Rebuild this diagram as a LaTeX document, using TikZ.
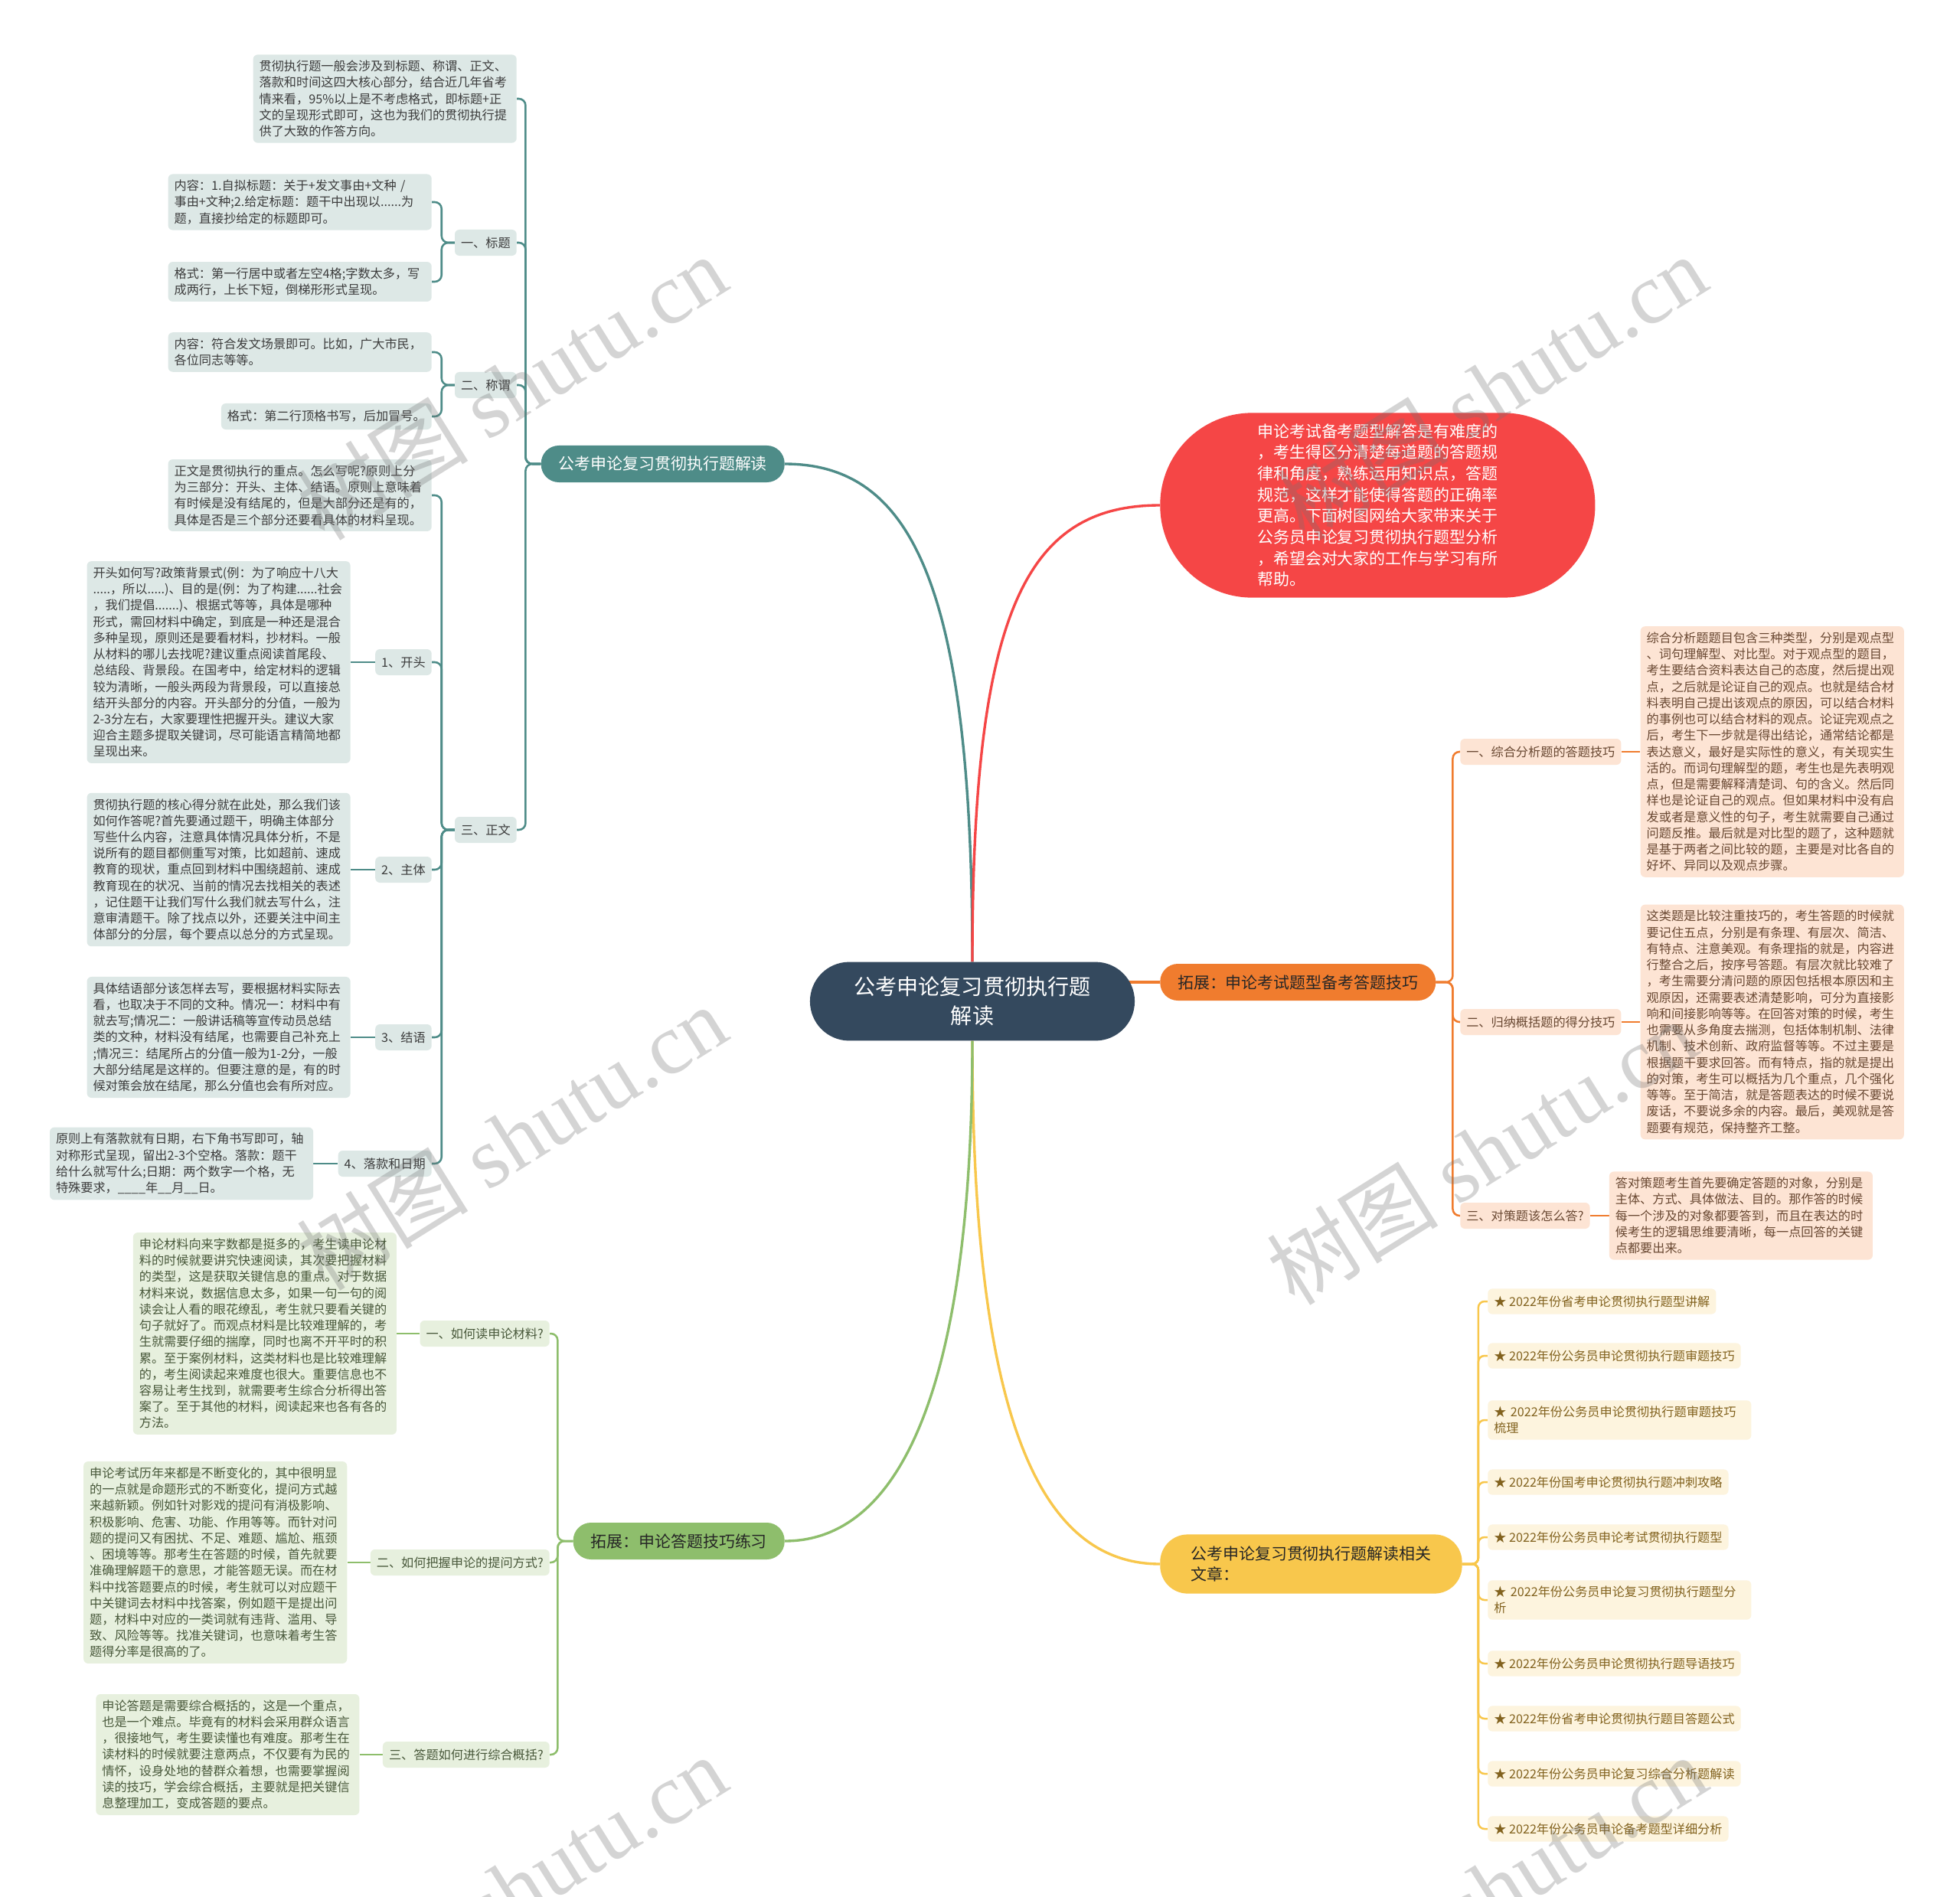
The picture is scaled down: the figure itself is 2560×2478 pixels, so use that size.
\documentclass[tikz,border=0pt]{standalone}
\usepackage{fontspec}
\setmainfont{Noto Sans CJK SC}
\newfontfamily\wmlatin{Liberation Serif}
\usepackage{tikz}
\usetikzlibrary{positioning, backgrounds}
\definecolor{rootblue}{RGB}{52, 73, 94}
\definecolor{branchteal}{RGB}{78, 140, 136}
\definecolor{paleteal}{RGB}{221, 232, 230}
\definecolor{branchred}{RGB}{245, 70, 70}
\definecolor{branchorange}{RGB}{240, 124, 46}
\definecolor{paleorange}{RGB}{253, 228, 212}
\definecolor{branchyellow}{RGB}{248, 199, 76}
\definecolor{paleyellow}{RGB}{253, 244, 222}
\definecolor{branchgreen}{RGB}{142, 190, 108}
\definecolor{palegreen}{RGB}{231, 240, 222}
\definecolor{inkgray}{RGB}{60, 60, 60}
\definecolor{inkbrown}{RGB}{105, 72, 50}
\definecolor{inkgold}{RGB}{130, 98, 30}
\definecolor{inkgreen}{RGB}{72, 88, 58}

\begin{document}
\begin{tikzpicture}[
    x=0.025cm, y=-0.025cm,
    rootnode/.style={
        rectangle,
        rounded corners=1.28cm,
        fill=rootblue,
        text=white,
        align=center,
        minimum width=10.6cm,
        minimum height=2.57cm,
        font=\fontsize{20}{26.7}\selectfont
    },
    mainbox/.style={
        rectangle,
        rounded corners=0.58cm,
        minimum height=1.2cm,
        inner xsep=0.57cm,
        inner ysep=0.2cm,
        font=\fontsize{14.9}{19.8}\selectfont
    },
    introbox/.style={
        rectangle,
        rounded corners=3cm,
        fill=branchred,
        text=white,
        align=left,
        minimum width=14.2cm,
        minimum height=6.03cm,
        font=\fontsize{14.9}{19.7}\selectfont
    },
    relatedbox/.style={
        rectangle,
        rounded corners=0.9cm,
        fill=branchyellow,
        text=black!85,
        align=left,
        inner xsep=1cm,
        minimum height=1.93cm,
        font=\fontsize{14.9}{19.8}\selectfont
    },
    leafbox/.style={
        rectangle,
        rounded corners=0.15cm,
        inner xsep=0.2cm,
        inner ysep=0.19cm,
        align=left,
        font=\fontsize{11.5}{15.1}\selectfont
    },
    labelbox/.style={leafbox, minimum height=0.85cm},
    tealtext/.style={leafbox, text width=8.2cm, fill=paleteal, text=inkgray},
    teallabel/.style={labelbox, fill=paleteal, text=inkgray},
    orangetext/.style={leafbox, text width=8.2cm, fill=paleorange, text=inkbrown},
    orangelabel/.style={labelbox, fill=paleorange, text=inkbrown},
    greentext/.style={leafbox, text width=8.2cm, fill=palegreen, text=inkgreen},
    greenlabel/.style={labelbox, fill=palegreen, text=inkgreen},
    linkitem/.style={labelbox, fill=paleyellow, text=inkgold, minimum height=0.83cm},
    tealline/.style={draw=branchteal, line width=1.8pt, rounded corners=0.22cm},
    redline/.style={draw=branchred, line width=2.4pt},
    orangeline/.style={draw=branchorange, line width=1.8pt, rounded corners=0.22cm},
    yellowline/.style={draw=branchyellow, line width=1.8pt, rounded corners=0.2cm},
    greenline/.style={draw=branchgreen, line width=1.8pt, rounded corners=0.22cm},
    trunk/.style={line width=2.4pt},
    watermark/.style={
        rotate=32,
        text=black!55,
        opacity=0.3,
        font=\fontsize{80}{80}\selectfont
    }
]

\useasboundingbox (0,0) rectangle (2560,2478);
\begin{scope}[on background layer]
    \fill[white] (0,0) rectangle (2560,2478);
\end{scope}

% ==================== ROOT AND MAIN BRANCHES ====================

\node (root) [rootnode] at (1270,1308) {公考申论复习贯彻执行题\\解读};

\node (guide) [mainbox, fill=branchteal, text=white, anchor=east] at (1025,606) {公考申论复习贯彻执行题解读};
\node (intro) [introbox, anchor=west] at (1515,660) {申论考试备考题型解答是有难度的\\，考生得区分清楚每道题的答题规\\律和角度，熟练运用知识点，答题\\规范，这样才能使得答题的正确率\\更高。下面树图网给大家带来关于\\公务员申论复习贯彻执行题型分析\\，希望会对大家的工作与学习有所\\帮助。};
\node (skills) [mainbox, fill=branchorange, text=black!85, anchor=west] at (1515,1283) {拓展：申论考试题型备考答题技巧};
\node (related) [relatedbox, anchor=west] at (1515,2043) {公考申论复习贯彻执行题解读相关\\文章：};
\node (practice) [mainbox, fill=branchgreen, text=black!85, anchor=east] at (1025,2013) {拓展：申论答题技巧练习};

% ==================== TEAL: GUIDE (TOP LEFT) ====================

\node (lead) [tealtext, anchor=east] at (675,129) {贯彻执行题一般会涉及到标题、称谓、正文、\\落款和时间这四大核心部分，结合近几年省考\\情来看，95\%以上是不考虑格式，即标题+正\\文的呈现形式即可，这也为我们的贯彻执行提\\供了大致的作答方向。};
\node (title) [teallabel, anchor=east] at (675,317) {一、标题};
\node (address) [teallabel, anchor=east] at (675,503) {二、称谓};
\node (bodytext) [teallabel, anchor=east] at (675,1084) {三、正文};

\node (titlecont) [tealtext, anchor=east] at (564,264) {内容：1.自拟标题：关于+发文事由+文种 /\\事由+文种;2.给定标题：题干中出现以......为\\题，直接抄给定的标题即可。};
\node (titlefmt) [tealtext, anchor=east] at (564,368) {格式：第一行居中或者左空4格;字数太多，写\\成两行，上长下短，倒梯形形式呈现。};
\node (addrcont) [tealtext, anchor=east] at (564,460) {内容：符合发文场景即可。比如，广大市民，\\各位同志等等。};
\node (addrfmt) [teallabel, anchor=east] at (564,544) {格式：第二行顶格书写，后加冒号。};

\node (bodyintro) [tealtext, anchor=east] at (564,647) {正文是贯彻执行的重点。怎么写呢?原则上分\\为三部分：开头、主体、结语。原则上意味着\\有时候是没有结尾的，但是大部分还是有的，\\具体是否是三个部分还要看具体的材料呈现。};
\node (opening) [teallabel, anchor=east] at (564,865) {1、开头};
\node (mainpart) [teallabel, anchor=east] at (564,1136) {2、主体};
\node (closing) [teallabel, anchor=east] at (564,1355) {3、结语};
\node (signoff) [teallabel, anchor=east] at (564,1520) {4、落款和日期};

\node (openingtxt) [tealtext, left=0.8cm of opening] {开头如何写?政策背景式(例：为了响应十八大\\.....，所以.....)、目的是(例：为了构建......社会\\，我们提倡.......)、根据式等等，具体是哪种\\形式，需回材料中确定，到底是一种还是混合\\多种呈现，原则还是要看材料，抄材料。一般\\从材料的哪儿去找呢?建议重点阅读首尾段、\\总结段、背景段。在国考中，给定材料的逻辑\\较为清晰，一般头两段为背景段，可以直接总\\结开头部分的内容。开头部分的分值，一般为\\2-3分左右，大家要理性把握开头。建议大家\\迎合主题多提取关键词，尽可能语言精简地都\\呈现出来。};
\node (mainparttxt) [tealtext, left=0.8cm of mainpart] {贯彻执行题的核心得分就在此处，那么我们该\\如何作答呢?首先要通过题干，明确主体部分\\写些什么内容，注意具体情况具体分析，不是\\说所有的题目都侧重写对策，比如超前、速成\\教育的现状，重点回到材料中围绕超前、速成\\教育现在的状况、当前的情况去找相关的表述\\，记住题干让我们写什么我们就去写什么，注\\意审清题干。除了找点以外，还要关注中间主\\体部分的分层，每个要点以总分的方式呈现。};
\node (closingtxt) [tealtext, left=0.8cm of closing] {具体结语部分该怎样去写，要根据材料实际去\\看，也取决于不同的文种。情况一：材料中有\\就去写;情况二：一般讲话稿等宣传动员总结\\类的文种，材料没有结尾，也需要自己补充上\\;情况三：结尾所占的分值一般为1-2分，一般\\大部分结尾是这样的。但要注意的是，有的时\\候对策会放在结尾，那么分值也会有所对应。};
\node (signofftxt) [tealtext, left=0.8cm of signoff] {原则上有落款就有日期，右下角书写即可，轴\\对称形式呈现，留出2-3个空格。落款：题干\\给什么就写什么;日期：两个数字一个格，无\\特殊要求，\_\_\_\_年\_\_月\_\_日。};

% ==================== ORANGE: SKILLS (RIGHT) ====================

\node (analysis) [orangelabel, anchor=west] at (1907,982) {一、综合分析题的答题技巧};
\node (summary) [orangelabel, anchor=west] at (1907,1335) {二、归纳概括题的得分技巧};
\node (measures) [orangelabel, anchor=west] at (1907,1588) {三、对策题该怎么答?};

\node (analysistxt) [orangetext, right=0.62cm of analysis] {综合分析题题目包含三种类型，分别是观点型\\、词句理解型、对比型。对于观点型的题目，\\考生要结合资料表达自己的态度，然后提出观\\点，之后就是论证自己的观点。也就是结合材\\料表明自己提出该观点的原因，可以结合材料\\的事例也可以结合材料的观点。论证完观点之\\后，考生下一步就是得出结论，通常结论都是\\表达意义，最好是实际性的意义，有关现实生\\活的。而词句理解型的题，考生也是先表明观\\点，但是需要解释清楚词、句的含义。然后同\\样也是论证自己的观点。但如果材料中没有启\\发或者是意义性的句子，考生就需要自己通过\\问题反推。最后就是对比型的题了，这种题就\\是基于两者之间比较的题，主要是对比各自的\\好坏、异同以及观点步骤。};
\node (summarytxt) [orangetext, right=0.62cm of summary] {这类题是比较注重技巧的，考生答题的时候就\\要记住五点，分别是有条理、有层次、简洁、\\有特点、注意美观。有条理指的就是，内容进\\行整合之后，按序号答题。有层次就比较难了\\，考生需要分清问题的原因包括根本原因和主\\观原因，还需要表述清楚影响，可分为直接影\\响和间接影响等等。在回答对策的时候，考生\\也需要从多角度去揣测，包括体制机制、法律\\机制、技术创新、政府监督等等。不过主要是\\根据题干要求回答。而有特点，指的就是提出\\的对策，考生可以概括为几个重点，几个强化\\等等。至于简洁，就是答题表达的时候不要说\\废话，不要说多余的内容。最后，美观就是答\\题要有规范，保持整齐工整。};
\node (measurestxt) [orangetext, right=0.62cm of measures] {答对策题考生首先要确定答题的对象，分别是\\主体、方式、具体做法、目的。那作答的时候\\每一个涉及的对象都要答到，而且在表达的时\\候考生的逻辑思维要清晰，每一点回答的关键\\点都要出来。};

% ==================== YELLOW: RELATED ARTICLES ====================

\node (link1) [linkitem, anchor=west] at (1943,1700) {★ 2022年份省考申论贯彻执行题型讲解};
\node (link2) [linkitem, anchor=west] at (1943,1771) {★ 2022年份公务员申论贯彻执行题审题技巧};
\node (link3) [linkitem, anchor=west, text width=8.2cm] at (1943,1855) {★ 2022年份公务员申论贯彻执行题审题技巧\\梳理};
\node (link4) [linkitem, anchor=west] at (1943,1936) {★ 2022年份国考申论贯彻执行题冲刺攻略};
\node (link5) [linkitem, anchor=west] at (1943,2008) {★ 2022年份公务员申论考试贯彻执行题型};
\node (link6) [linkitem, anchor=west, text width=8.2cm] at (1943,2090) {★ 2022年份公务员申论复习贯彻执行题型分\\析};
\node (link7) [linkitem, anchor=west] at (1943,2173) {★ 2022年份公务员申论贯彻执行题导语技巧};
\node (link8) [linkitem, anchor=west] at (1943,2245) {★ 2022年份省考申论贯彻执行题目答题公式};
\node (link9) [linkitem, anchor=west] at (1943,2317) {★ 2022年份公务员申论复习综合分析题解读};
\node (link10) [linkitem, anchor=west] at (1943,2389) {★ 2022年份公务员申论备考题型详细分析};

% ==================== GREEN: PRACTICE (BOTTOM LEFT) ====================

\node (reading) [greenlabel, anchor=east] at (718,1742) {一、如何读申论材料?};
\node (asking) [greenlabel, anchor=east] at (718,2041) {二、如何把握申论的提问方式?};
\node (summing) [greenlabel, anchor=east] at (718,2292) {三、答题如何进行综合概括?};

\node (readingtxt) [greentext, left=0.75cm of reading] {申论材料向来字数都是挺多的，考生读申论材\\料的时候就要讲究快速阅读，其次要把握材料\\的类型，这是获取关键信息的重点。对于数据\\材料来说，数据信息太多，如果一句一句的阅\\读会让人看的眼花缭乱，考生就只要看关键的\\句子就好了。而观点材料是比较难理解的，考\\生就需要仔细的揣摩，同时也离不开平时的积\\累。至于案例材料，这类材料也是比较难理解\\的，考生阅读起来难度也很大。重要信息也不\\容易让考生找到，就需要考生综合分析得出答\\案了。至于其他的材料，阅读起来也各有各的\\方法。};
\node (askingtxt) [greentext, left=0.75cm of asking] {申论考试历年来都是不断变化的，其中很明显\\的一点就是命题形式的不断变化，提问方式越\\来越新颖。例如针对影戏的提问有消极影响、\\积极影响、危害、功能、作用等等。而针对问\\题的提问又有困扰、不足、难题、尴尬、瓶颈\\、困境等等。那考生在答题的时候，首先就要\\准确理解题干的意思，才能答题无误。而在材\\料中找答题要点的时候，考生就可以对应题干\\中关键词去材料中找答案，例如题干是提出问\\题，材料中对应的一类词就有违背、滥用、导\\致、风险等等。找准关键词，也意味着考生答\\题得分率是很高的了。};
\node (summingtxt) [greentext, left=0.75cm of summing] {申论答题是需要综合概括的，这是一个重点，\\也是一个难点。毕竟有的材料会采用群众语言\\，很接地气，考生要读懂也有难度。那考生在\\读材料的时候就要注意两点，不仅要有为民的\\情怀，设身处地的替群众着想，也需要掌握阅\\读的技巧，学会综合概括，主要就是把关键信\\息整理加工，变成答题的要点。};

% ==================== CONNECTORS ====================

\begin{scope}[on background layer]
    % root to main branches
    \draw [tealline, trunk] (root.north) .. controls (1270,767) and (1192,606) .. (guide.east);
    \draw [redline] (root.north) .. controls (1270,800) and (1339,660) .. (intro.west);
    \draw [orangeline, trunk] (root.center |- skills.west) -- (skills.west);
    \draw [yellowline, trunk] (root.south) .. controls (1270,1845) and (1355,2043) .. (related.west);
    \draw [greenline, trunk] (root.south) .. controls (1270,1812) and (1176,2013) .. (practice.east);

    % teal tree
    \foreach \kid in {lead, title, address, bodytext}
        \draw [tealline] (guide.west) -- ++(-20,0) |- (\kid.east);
    \foreach \kid in {titlecont, titlefmt}
        \draw [tealline] (title.west) -- ++(-17,0) |- (\kid.east);
    \foreach \kid in {addrcont, addrfmt}
        \draw [tealline] (address.west) -- ++(-17,0) |- (\kid.east);
    \foreach \kid in {bodyintro, opening, mainpart, closing, signoff}
        \draw [tealline] (bodytext.west) -- ++(-17,0) |- (\kid.east);
    \draw [tealline] (opening.west) -- (openingtxt.east);
    \draw [tealline] (mainpart.west) -- (mainparttxt.east);
    \draw [tealline] (closing.west) -- (closingtxt.east);
    \draw [tealline] (signoff.west) -- (signofftxt.east);

    % orange tree
    \foreach \kid in {analysis, summary, measures}
        \draw [orangeline] (skills.east) -- ++(22,0) |- (\kid.west);
    \draw [orangeline] (analysis.east) -- (analysistxt.west);
    \draw [orangeline] (summary.east) -- (summarytxt.west);
    \draw [orangeline] (measures.east) -- (measurestxt.west);

    % yellow list
    \foreach \kid in {link1, link2, link3, link4, link5, link6, link7, link8, link9, link10}
        \draw [yellowline] (related.east) -- ++(21,0) |- (\kid.west);

    % green tree
    \foreach \kid in {reading, asking, summing}
        \draw [greenline] (practice.west) -- ++(-20,0) |- (\kid.east);
    \draw [greenline] (reading.west) -- (readingtxt.east);
    \draw [greenline] (asking.west) -- (askingtxt.east);
    \draw [greenline] (summing.west) -- (summingtxt.east);
\end{scope}

% ==================== WATERMARK ====================

\foreach \wx/\wy [count=\i] in {668/506, 1948/506, 668/1486, 1935/1505, 668/2466, 1948/2466}
    \node (wm\i) [watermark] at (\wx,\wy) {树图 {\wmlatin shutu.cn}};

\end{tikzpicture}
\end{document}
